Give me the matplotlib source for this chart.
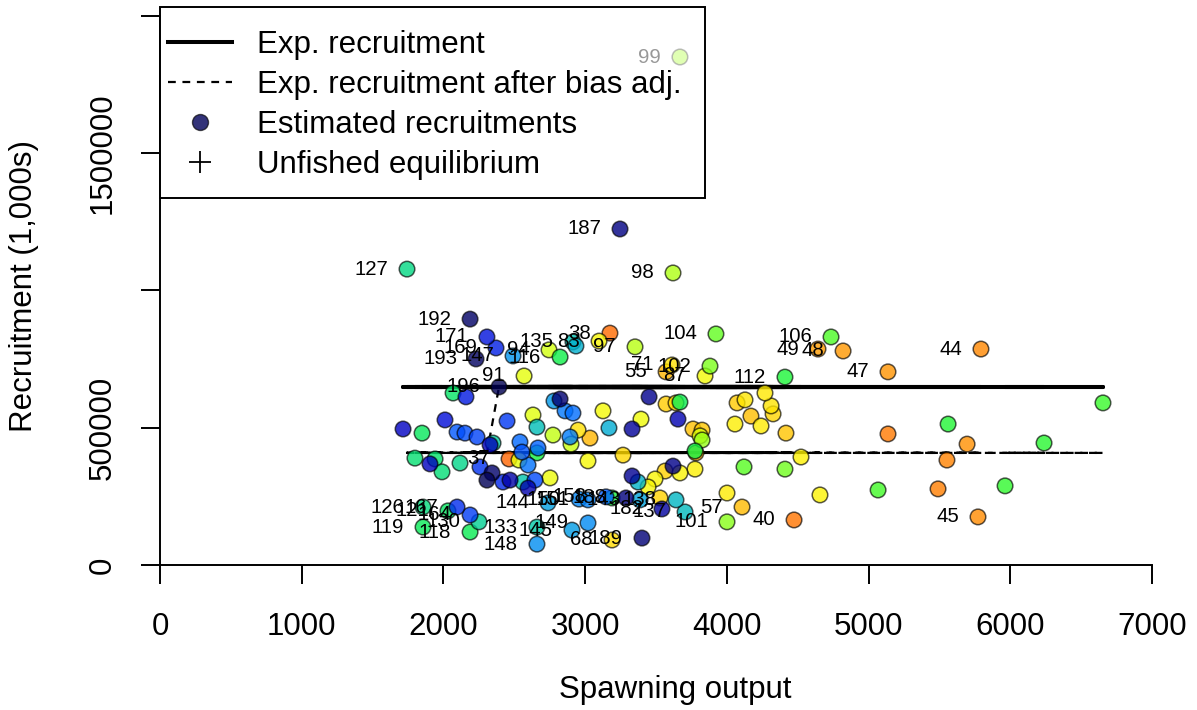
import numpy as np
import matplotlib
matplotlib.use("Agg")
import matplotlib.pyplot as plt
from matplotlib.lines import Line2D
from matplotlib.patches import Rectangle

# spawning output, estimated recruitment (1,000s) and year of each point
ssb = [3669, 3246, 3620, 1743, 2188, 2307, 2371, 2230, 2491, 2745,
       2823, 2914, 2935, 3098, 3175, 3352, 3923, 4735, 4643, 4820,
       5793, 5137, 4410, 3571, 3613, 3846, 3881, 2569, 2392, 2068,
       2159, 6654, 6238, 5963, 5695, 5772, 5561, 5553, 5490, 5137,
       5067, 4657, 4523, 4417, 4410, 4121, 4474, 4001, 4107, 4001,
       4269, 4312, 4326, 4072, 4128, 4170, 4057, 4241, 3825, 3761,
       3825, 3811, 3782, 3775, 3775, 3669, 3620, 3564, 3493, 3444,
       3373, 3331, 3528, 3641, 3705, 3542, 3401, 3190, 3267, 3020,
       3451, 3571, 3641, 3669, 3126, 3394, 3655, 3168, 3331, 2950,
       3034, 2893, 2900, 2823, 2780, 2858, 2914, 2632, 2660, 2773,
       2449, 2540, 2667, 2554, 2463, 2533, 2597, 2660, 2752, 2646,
       2597, 2561, 2470, 2420, 2343, 2307, 2258, 2117, 2329, 2350,
       2237, 2152, 2096, 2011, 1715, 1849, 1799, 1941, 1905, 1990,
       2738, 2660, 2907, 3020, 2660, 2188, 1856, 1856, 2096, 2188,
       2251, 2032, 2957, 3020, 3147, 3190, 3288, 3387]
rec = [1849000, 1223000, 1063000, 1077000, 895000, 830000, 790000, 750000, 761000, 783000,
       757000, 812000, 797000, 815000, 844000, 794000, 841000, 830000, 786000, 779000,
       786000, 703000, 684000, 703000, 728000, 688000, 724000, 688000, 648000, 626000,
       612000, 590000, 444000, 288000, 440000, 175000, 513000, 382000, 277000, 477000,
       273000, 255000, 393000, 480000, 349000, 357000, 164000, 157000, 211000, 262000,
       626000, 579000, 550000, 590000, 601000, 542000, 513000, 506000, 491000, 495000,
       455000, 470000, 408000, 415000, 349000, 335000, 360000, 342000, 313000, 284000,
       302000, 324000, 244000, 237000, 193000, 204000, 98000, 91000, 400000, 379000,
       612000, 586000, 590000, 593000, 561000, 531000, 531000, 499000, 495000, 491000,
       462000, 466000, 440000, 604000, 597000, 561000, 553000, 546000, 502000, 473000,
       524000, 448000, 426000, 411000, 386000, 382000, 364000, 408000, 317000, 309000,
       280000, 302000, 309000, 302000, 335000, 309000, 357000, 371000, 437000, 444000,
       466000, 480000, 484000, 528000, 495000, 480000, 389000, 386000, 368000, 339000,
       226000, 138000, 127000, 153000, 76000, 120000, 138000, 211000, 211000, 182000,
       157000, 197000, 240000, 237000, 248000, 244000, 244000, 237000]
yrs = [99, 187, 98, 127, 192, 171, 169, 193, 147, 94,
       116, 135, 140, 83, 38, 97, 104, 106, 49, 48,
       44, 47, 112, 55, 71, 87, 102, 91, 196, 122,
       170, 108, 110, 109, 46, 45, 111, 43, 42, 41,
       107, 80, 78, 60, 103, 105, 40, 101, 57, 76,
       74, 72, 66, 62, 73, 58, 77, 75, 61, 59,
       100, 93, 54, 115, 79, 81, 186, 64, 82, 84,
       139, 184, 65, 138, 137, 182, 189, 68, 67, 85,
       185, 63, 69, 117, 86, 88, 179, 141, 183, 70,
       56, 152, 95, 190, 146, 153, 155, 92, 136, 96,
       165, 156, 157, 160, 37, 90, 154, 114, 89, 162,
       180, 134, 181, 168, 191, 195, 166, 128, 178, 132,
       163, 161, 159, 172, 176, 120, 124, 123, 177, 125,
       144, 133, 145, 149, 148, 118, 119, 126, 167, 164,
       130, 121, 150, 151, 158, 113, 188, 143]

# years that carry a text label
labelled = [99, 187, 98, 127, 192, 171, 169, 193, 147, 94, 116, 135, 83, 38, 97,
            104, 106, 49, 48, 44, 47, 112, 55, 71, 87, 102, 91, 196, 45, 40, 101,
            57, 138, 137, 182, 189, 68, 37, 144, 133, 145, 149, 148, 118, 119, 126,
            167, 164, 130, 121, 150, 151, 158, 188, 143]

r_exp = 648000    # expected recruitment
r_bias = 408000   # expected recruitment after bias adjustment
yr_nobias = 196   # last year, no bias adjustment

plt.rcParams['font.family'] = ['Liberation Sans', 'DejaVu Sans']
plt.rcParams['path.simplify'] = False
FS = 22.5


def rich_colors(t, alpha=0.8):
    # same ramp as rich.colors.short
    t = np.asarray(t, dtype=float)
    r = 1 / (1 + np.exp(20 - 35 * t))
    g = np.clip(-0.8 + 6 * t - 5 * t ** 2, 0, 1)
    b = np.exp(-0.5 * ((t - 0.25) / 0.15) ** 2)
    return np.column_stack([r, g, b, np.full(len(t), alpha)])


x = np.array(ssb, dtype=float)
y = np.array(rec, dtype=float)
yr = np.array(yrs)
order = np.argsort(yr)
x, y, yr = x[order], y[order], yr[order]
cols = rich_colors(1 - (yr - 28) / 172.0)

fig = plt.figure(figsize=(11.97, 7.10), dpi=100)
ax = fig.add_axes([160 / 1197, 145 / 710, 1030 / 1197, 558 / 710])

# expected recruitment lines, drawn in time order like r4ss
ax.plot(x, np.full(len(x), r_exp), color='black', lw=2.9, zorder=2)
bias = np.where(yr >= yr_nobias, r_exp, r_bias)
ax.plot(x, bias, color='black', lw=1.6, ls=(0, (3.5, 3.0)), zorder=2)

ax.scatter(x, y, s=125, c=cols, edgecolors=(0, 0, 0, 0.65), linewidths=1.1, zorder=3)

for xi, yi, yy in zip(x, y, yr):
    if yy in labelled:
        ax.annotate(str(yy), (xi, yi), xytext=(-19, 0), textcoords='offset pixels',
                    ha='right', va='center', fontsize=14.7, zorder=4)

ax.set_xlim(0, 7268)
ax.set_ylim(0, 2031000)
ax.set_xticks(range(0, 7001, 1000))
ax.set_yticks([0, 500000, 1000000, 1500000, 2000000])
ax.set_yticklabels(['0', '500000', '', '1500000', ''], rotation=90, va='center')
for s in ['top', 'right']:
    ax.spines[s].set_visible(False)
ax.spines['left'].set_bounds(0, 2000000)
ax.spines['bottom'].set_bounds(0, 7000)
for s in ['left', 'bottom']:
    ax.spines[s].set_linewidth(1.4)
ax.tick_params(axis='both', direction='out', length=13.7, width=1.4, labelsize=FS)
ax.tick_params(axis='x', pad=20)
ax.tick_params(axis='y', pad=17)
ax.set_xlabel('Spawning output', fontsize=FS, labelpad=24)
ax.set_ylabel('Recruitment (1,000s)', fontsize=FS, labelpad=35)

# legend box: half-transparent white like the R legend bg
ax.add_patch(Rectangle((0, 0.658), 0.529, 0.342, transform=ax.transAxes,
                       facecolor=(1, 1, 1, 0.6), edgecolor='black', lw=1.4,
                       zorder=9, clip_on=False))
handles = [
    Line2D([], [], color='black', lw=2.9),
    Line2D([], [], color='black', lw=1.6, ls=(0, (3.5, 3.0))),
    Line2D([], [], ls='none', marker='o', markersize=11.5,
           markerfacecolor=rich_colors([0.03])[0], markeredgecolor=(0, 0, 0, 0.65)),
    Line2D([], [], ls='none', marker='+', markersize=16, markeredgewidth=1.3, color='black'),
]
names = ['Exp. recruitment', 'Exp. recruitment after bias adj.',
         'Estimated recruitments', 'Unfished equilibrium']
leg = ax.legend(handles, names, loc='upper left', bbox_to_anchor=(0.0078, 0.958),
                borderaxespad=0, borderpad=0, frameon=False, fontsize=FS,
                handlelength=2.05, handletextpad=0.8, labelspacing=0.32)
leg.set_zorder(10)

fig.savefig('out.png', dpi=100)
